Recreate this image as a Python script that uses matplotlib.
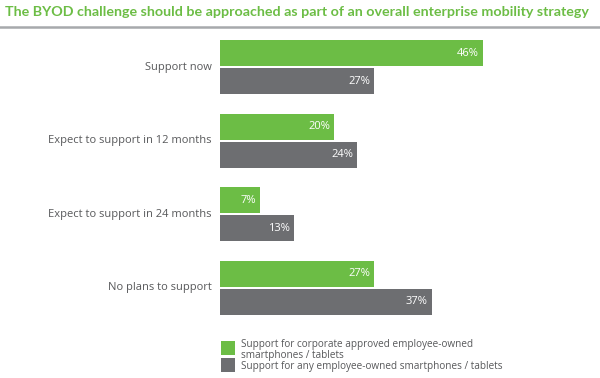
import matplotlib
matplotlib.use("Agg")
import matplotlib.pyplot as plt
from matplotlib.lines import Line2D
from matplotlib.patches import Rectangle

categories = ["Support now", "Expect to support in 12 months",
              "Expect to support in 24 months", "No plans to support"]
corporate = [46, 20, 7, 27]
any_owned = [27, 24, 13, 37]
legend_labels = ["Support for corporate approved employee-owned\nsmartphones / tablets",
                 "Support for any employee-owned smartphones / tablets"]

GREEN = "#6cbd45"
GRAY = "#6d6e71"
TEXT = "#58595b"

plt.rcParams["font.family"] = ["Open Sans", "DejaVu Sans"]

fig = plt.figure(figsize=(6, 3.78), dpi=100)
fig.patch.set_facecolor("white")

# title + rule
fig.text(0.008, 1 - 12 / 378, "The BYOD challenge should be approached as part of an overall enterprise mobility strategy",
         color=GREEN, fontsize=10.3, fontweight="bold", family=["Lato", "DejaVu Sans"],
         ha="left", va="center")
fig.add_artist(Line2D([0, 1], [1 - 27 / 378, 1 - 27 / 378], color="#a7a9ac", lw=1.8))

ax = fig.add_axes([220 / 600, 1 - 320 / 378, 343 / 600, 285 / 378])
ax.set_xlim(0, 60)
ax.set_ylim(3.44, -0.44)
ax.axis("off")

h = 0.355
off = 0.19
for i, (c, a) in enumerate(zip(corporate, any_owned)):
    ax.barh(i - off, c, height=h, color=GREEN)
    ax.barh(i + off, a, height=h, color=GRAY)
    ax.text(c - 0.7, i - off, f"{c}%", color="white", fontsize=8, ha="right", va="center")
    ax.text(a - 0.7, i + off, f"{a}%", color="white", fontsize=8, ha="right", va="center")
    ax.text(-1.4, i, categories[i], color=TEXT, fontsize=8, ha="right", va="center")

# legend
for col, lab, ytop, ytxt in zip([GREEN, GRAY], legend_labels, [341, 358], [350, 366]):
    fig.add_artist(Rectangle((221 / 600, 1 - (ytop + 14) / 378), 14 / 600, 14 / 378,
                             facecolor=col, edgecolor="none", transform=fig.transFigure))
    fig.text(241 / 600, 1 - ytxt / 378, lab, color=TEXT, fontsize=7.2,
             ha="left", va="center", linespacing=0.9)

fig.savefig("out.png", dpi=100, facecolor="white")
